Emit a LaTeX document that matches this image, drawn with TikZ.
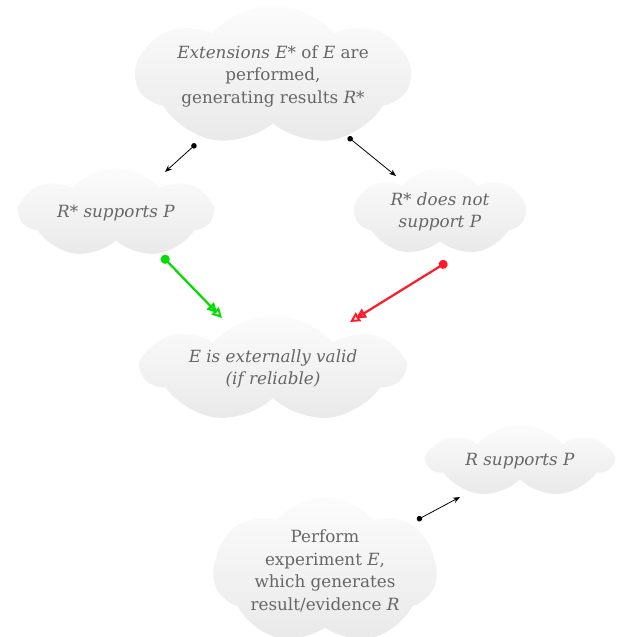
\documentclass[tikz,border=0pt]{standalone}
\usepackage{fontspec}
\setmainfont{DejaVu Serif}
\usetikzlibrary{shapes.symbols,arrows.meta,calc}
\definecolor{txt}{HTML}{666666}
\definecolor{cloudtop}{HTML}{FCFCFC}
\definecolor{cloudbot}{HTML}{E9E9E9}
\definecolor{okgreen}{HTML}{00DD00}
\definecolor{badred}{HTML}{FF1A2A}
\tikzset{
  puff/.style={cloud, cloud puffs=7, cloud puff arc=100, cloud ignores aspect, top color=cloudtop, bottom color=cloudbot, draw=none, inner sep=0pt, text=txt, align=center, font=\fontsize{16.8}{22.5}\selectfont},
  thin/.style={line width=0.8pt, {Circle[length=5.5pt]}-{Stealth[length=7pt,width=5.5pt]}},
  judge/.style={line width=2.2pt, {Circle[length=9pt]}-{Triangle[open,length=10pt,width=10pt,line width=2pt,sep=-3pt]Triangle[open,length=10pt,width=10pt,line width=2pt]}}
}
\begin{document}
\begin{tikzpicture}[x=1pt,y=-1pt]
\useasboundingbox (0,0) rectangle (619,637);
\node[puff, minimum width=273pt, minimum height=142pt] (top) at (273,76) {\textit{Extensions E*} of \textit{E} are\\performed,\\generating results \textit{R*}};
\node[puff, minimum width=192pt, minimum height=90pt] (left) at (116,213) {\textit{R* supports P}};
\node[puff, minimum width=170pt, minimum height=88pt] (right) at (440,212) {\textit{R* does not}\\\textit{support P}};
\node[puff, minimum width=260pt, minimum height=108pt] (mid) at (273,369) {\textit{E is externally valid}\\\textit{(if reliable)}};
\node[puff, minimum width=184pt, minimum height=73pt] (rsp) at (520,461) {\textit{R supports P}};
\node[puff, minimum width=224pt, minimum height=132pt] (exp) at (325,571) {Perform\\experiment \textit{E},\\which generates\\result/evidence \textit{R}};
\coordinate (t1) at ($(top)+(-77,68)$);
\coordinate (t2) at ($(top)+(75,61)$);
\coordinate (l1) at ($(left)+(49,-41)$);
\coordinate (r1) at ($(right)+(-44,-36)$);
\coordinate (g1) at ($(left)+(46,43)$);
\coordinate (rd1) at ($(right)+(7,50)$);
\coordinate (m1) at ($(mid)+(-51,-51)$);
\coordinate (m2) at ($(mid)+(77,-47)$);
\coordinate (e1) at ($(exp)+(92,-51)$);
\coordinate (s1) at ($(rsp)+(-60,36)$);
\draw[thin] (t1) -- (l1);
\draw[thin] (t2) -- (r1);
\draw[judge, okgreen] (g1) -- (m1);
\draw[judge, badred] (rd1) -- (m2);
\draw[thin] (e1) -- (s1);
\end{tikzpicture}
\end{document}
